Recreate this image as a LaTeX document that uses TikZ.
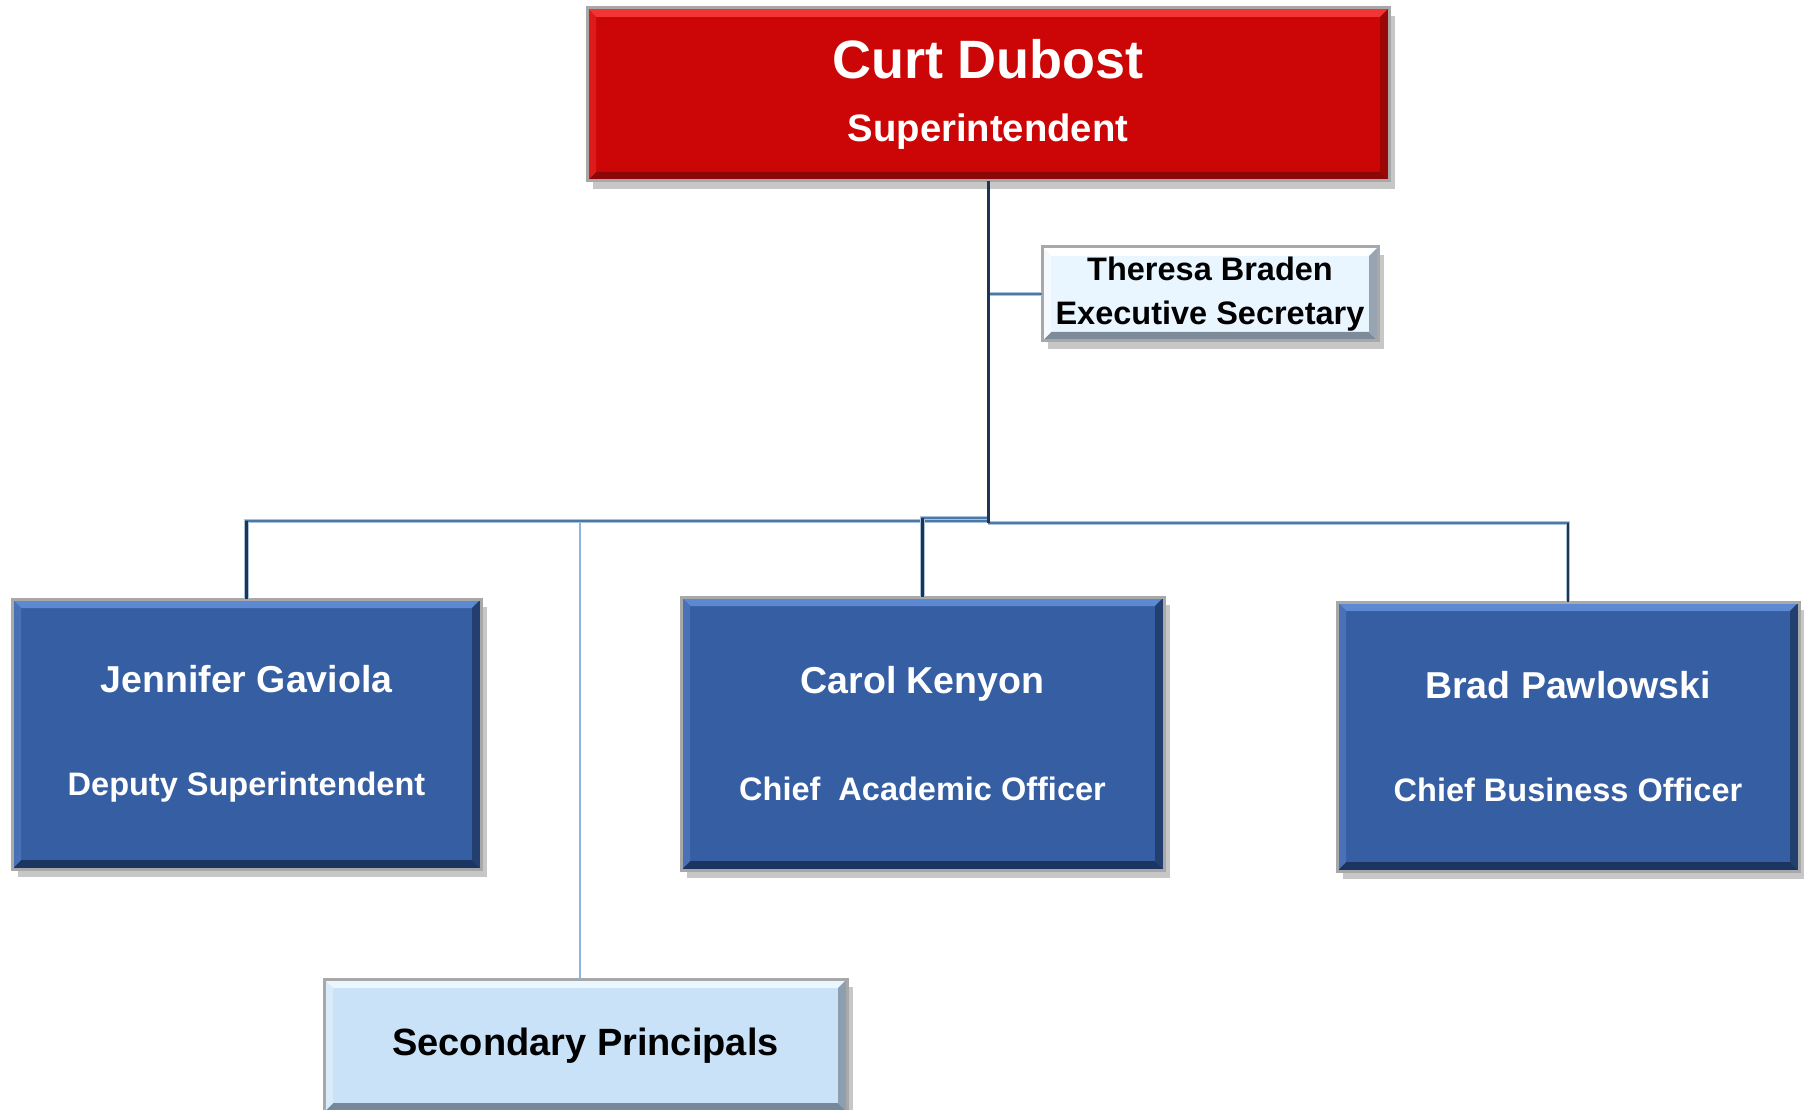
\documentclass[tikz,border=0pt]{standalone}
\usepackage{fontspec}
\setmainfont{Liberation Sans}
\usetikzlibrary{calc,shadows}
\definecolor{redf}{HTML}{CC0606}
\definecolor{redl}{HTML}{F23434}
\definecolor{redd}{HTML}{8A0808}
\definecolor{bluef}{HTML}{365EA2}
\definecolor{bluel}{HTML}{5D88D2}
\definecolor{blued}{HTML}{1C3560}
\definecolor{paleF}{HTML}{EAF6FF}
\definecolor{paleL}{HTML}{FFFFFF}
\definecolor{paleD}{HTML}{7C8A99}
\definecolor{secF}{HTML}{C9E2F8}
\definecolor{secL}{HTML}{EAF7FF}
\definecolor{secD}{HTML}{76889A}
\definecolor{framec}{HTML}{A8A8A8}
\definecolor{trunkc}{HTML}{1E3452}
\definecolor{busc}{HTML}{4C78A6}
\definecolor{busedge}{HTML}{A9C3DF}
\definecolor{secline}{HTML}{8DB3DF}
\tikzset{
  bxbase/.style={inner sep=0pt, outer sep=0pt, align=center,
    drop shadow={shadow xshift=2.4pt, shadow yshift=-3.2pt, opacity=0.22, fill=black}},
  trunk/.style={draw=trunkc, line width=1.2pt},
  drop/.style={draw=trunkc, line width=0.9pt},
  bus/.style={draw=busedge, line width=1.9pt, postaction={draw=busc, line width=1.0pt}},
  secconn/.style={draw=secline, line width=0.8pt},
}
\newcommand{\bvbox}[9]{%
  \node[bxbase, fill=#6, minimum width={#4*0.4pt}, minimum height={#5*0.4pt}] (#1) at (#2,#3) {#9};
  \fill[#7] (#1.north west) -- (#1.north east) -- ($(#1.north east)+(-9,9)$) -- ($(#1.north west)+(9,9)$) -- cycle;
  \fill[#8] (#1.south west) -- (#1.south east) -- ($(#1.south east)+(-9,-9)$) -- ($(#1.south west)+(9,-9)$) -- cycle;
  \fill[#8!75!#6] (#1.north east) -- (#1.south east) -- ($(#1.south east)+(-9,-9)$) -- ($(#1.north east)+(-9,9)$) -- cycle;
  \fill[#7!45!#6] (#1.north west) -- (#1.south west) -- ($(#1.south west)+(9,-9)$) -- ($(#1.north west)+(9,9)$) -- cycle;
  \draw[framec, line width=1.2pt] (#1.north west) rectangle (#1.south east);
}
\begin{document}
\begin{tikzpicture}[x=0.4pt, y=-0.4pt]
\clip (0,0) rectangle (1804,1110);
\fill[white] (0,0) rectangle (1804,1110);

\coordinate (jbus) at (986,521);
\coordinate (cbus) at (986,518);
\coordinate (bbus) at (986,523);
\coordinate (secbus) at (580,521);

\bvbox{top}{988}{94.5}{802}{173}{redf}{redl}{redd}{%
  \textcolor{white}{\fontsize{21.6}{26}\selectfont\bfseries Curt Dubost}\\[13.2pt]%
  \textcolor{white}{\fontsize{15.3}{26}\selectfont\bfseries Superintendent}}
\bvbox{ther}{1210}{294}{336}{94}{paleF}{paleL}{paleD}{%
  {\fontsize{13}{17.6}\selectfont\bfseries Theresa Braden}\\[5.6pt]%
  {\fontsize{13}{17.6}\selectfont\bfseries Executive Secretary}}
\bvbox{jen}{246.5}{734}{469}{270}{bluef}{bluel}{blued}{%
  \textcolor{white}{\fontsize{15}{42}\selectfont\bfseries Jennifer Gaviola}\\[29pt]%
  \textcolor{white}{\fontsize{13}{42}\selectfont\bfseries Deputy Superintendent}}
\bvbox{carol}{922.5}{733.5}{483}{273}{bluef}{bluel}{blued}{%
  \textcolor{white}{\fontsize{15}{42}\selectfont\bfseries Carol Kenyon}\\[29pt]%
  \textcolor{white}{\fontsize{13}{42}\selectfont\bfseries Chief~~Academic Officer}}
\bvbox{brad}{1568}{736.5}{462}{269}{bluef}{bluel}{blued}{%
  \textcolor{white}{\fontsize{15}{42}\selectfont\bfseries Brad Pawlowski}\\[29pt]%
  \textcolor{white}{\fontsize{13}{42}\selectfont\bfseries Chief Business Officer}}
\bvbox{secp}{585.5}{1045.5}{523}{133}{secF}{secL}{secD}{%
  {\fontsize{15.2}{18}\selectfont\bfseries Secondary Principals}}

\draw[secconn] (secbus) -- (secbus |- secp.north);
\draw[bus] (top.south |- jbus) -| (jen.north);
\draw[drop] (jen.north |- jbus) -- (jen.north);
\draw[bus] (top.south |- cbus) -| (carol.north);
\draw[drop] (carol.north |- cbus) -- (carol.north);
\draw[bus] (top.south |- bbus) -| (brad.north);
\draw[drop] (brad.north |- bbus) -- (brad.north);
\draw[bus] (top.south |- ther.west) -- (ther.west);
\draw[trunk] (top.south) -- (top.south |- bbus);
\end{tikzpicture}
\end{document}
